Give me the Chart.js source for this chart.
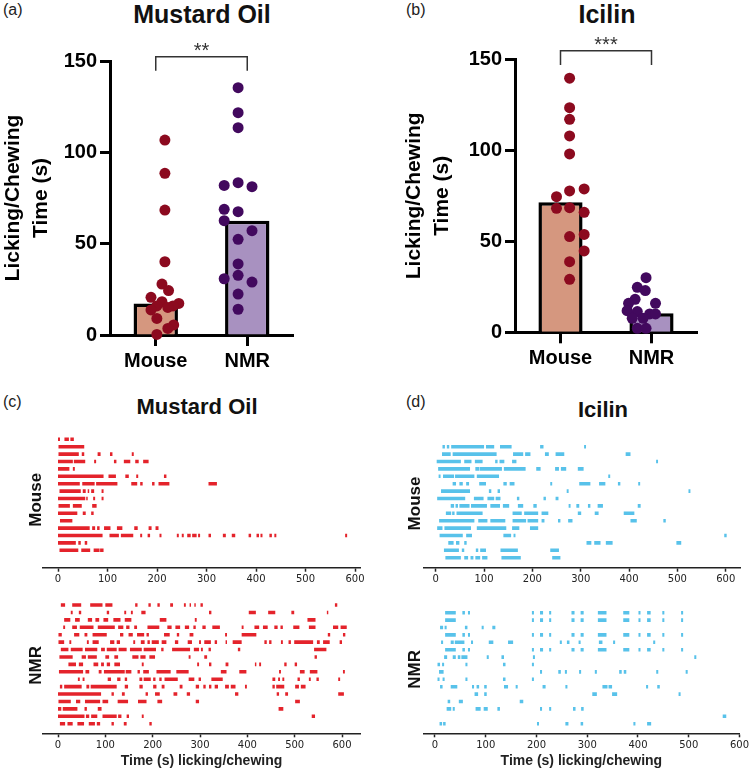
<!DOCTYPE html>
<html>
<head>
<meta charset="utf-8">
<script src="https://cdn.jsdelivr.net/npm/chart.js@4.4.1/dist/chart.umd.min.js"></script>
<style>
    body { margin: 0; background: #fff; width: 751px; height: 772px; position: relative; overflow: hidden; font-family: 'Liberation Sans', Arial, sans-serif; }
    .box { position: absolute; }
    .lbl { position: absolute; font-size: 16px; line-height: 16px; color: #222; white-space: nowrap; }
    .ttl { position: absolute; font-weight: bold; color: #111; white-space: nowrap; transform: translateX(-50%); }
</style>
</head>
<body>
<div class="lbl" style="left:3px;top:2px">(a)</div>
<div class="lbl" style="left:406px;top:2px">(b)</div>
<div class="lbl" style="left:3px;top:394px">(c)</div>
<div class="lbl" style="left:406px;top:394px">(d)</div>
<div class="ttl" style="left:202px;top:2px;font-size:25px;line-height:25px">Mustard Oil</div>
<div class="ttl" style="left:607px;top:2px;font-size:25px;line-height:25px">Icilin</div>
<div class="ttl" style="left:197px;top:396px;font-size:22px;line-height:22px">Mustard Oil</div>
<div class="ttl" style="left:603px;top:399px;font-size:22px;line-height:22px">Icilin</div>

<div class="box" style="left:0;top:0"><canvas id="barA" width="375" height="385"></canvas></div>
<div class="box" style="left:400px;top:0"><canvas id="barB" width="351" height="385"></canvas></div>
<div class="box" style="left:0;top:390px"><canvas id="rasC1" width="375" height="200"></canvas></div>
<div class="box" style="left:0;top:590px"><canvas id="rasC2" width="375" height="182"></canvas></div>
<div class="box" style="left:380px;top:390px"><canvas id="rasD1" width="371" height="200"></canvas></div>
<div class="box" style="left:380px;top:590px"><canvas id="rasD2" width="371" height="182"></canvas></div>

<script>
// ---- bar charts (a), (b) ----
const groups = ['Mouse', 'NMR'];
const yTicks = [0, 50, 100, 150];

const mustardBars = [17.3, 62.6];
const mustardMouseVals = [106.7, 88.5, 68.4, 40.1, 27.9, 24.3, 20.6, 18.2, 17.3, 15.9, 15.9, 15.1, 13.7, 9.1, 5.5, 3.6, 0.3];
const mustardMouseJit  = [0, 0, 0, 0, -0.04, 0.05, -0.19, -0.04, 0.19, 0.11, -0.11, 0.04, -0.19, -0.11, 0.12, 0.04, -0.11];
const mustardNmrVals = [135.4, 121.7, 113.5, 81.9, 83.4, 81.2, 68.8, 67.5, 62.6, 57.1, 52.4, 38.9, 32.7, 30.8, 29.0, 22.4, 14.1];
const mustardNmrJit  = [0, 0, 0, -0.19, 0, 0.19, -0.19, 0, -0.19, 0.19, 0, 0, 0, -0.19, 0.19, 0, 0];

const icilinBars = [71.4, 10.4];
const icilinMouseVals = [139.6, 123.4, 117.0, 107.9, 98.0, 74.5, 77.7, 78.8, 68.1, 68.5, 65.9, 52.6, 53.8, 44.7, 38.8, 29.1];
const icilinMouseJit  = [0, 0, 0, 0, 0, -0.18, 0, 0.2, -0.18, 0, 0.2, 0, 0.2, 0.2, 0, 0];
const icilinNmrVals = [30.0, 24.7, 22.9, 18.1, 15.9, 15.9, 11.4, 11.9, 10.1, 10.1, 7.7, 7.7, 2.2, 2.2];
const icilinNmrJit  = [0.05, -0.07, 0.04, -0.1, 0.18, -0.19, -0.07, -0.21, 0.1, 0.18, -0.14, 0.01, -0.07, 0.05];

const mustardSig = { text: '**', y: 152.3, drop: 144.7 };
const icilinSig = { text: '***', y: 154.7, drop: 146.9 };

// ---- raster plots (c), (d): each row is a list of [start, end] licking bouts in s ----
const xTicks = [0, 100, 200, 300, 400, 500, 600];

const mustardMouseRows = [
    [[0,4],[13,22],[25,32]],
    [[1,53]],
    [[1,42],[48,53],[80,86],[105,110],[149,153]],
    [[0,30],[32,55],[73,77],[113,118],[133,146],[156,163],[172,183]],
    [[0,23],[30,34]],
    [[0,92],[102,117],[136,143],[158,162],[214,219]],
    [[0,44],[49,74],[77,120],[148,160],[166,171],[190,195],[203,225],[304,321]],
    [[3,46],[50,56],[60,63],[67,73],[88,92]],
    [[0,55],[57,60],[71,75],[88,92]],
    [[1,24],[30,48],[69,78]],
    [[0,39],[50,56],[67,72]],
    [[4,29]],
    [[0,64],[69,75],[79,84],[93,106],[119,130],[154,161],[183,189],[197,203]],
    [[0,90],[104,123],[127,152],[166,170],[181,186],[205,209],[240,244],[250,254],[261,268],[271,280],[283,287],[304,309],[333,339],[351,358],[385,390],[401,406],[409,413],[427,432],[437,441],[580,584]],
    [[0,36],[41,46],[54,59]],
    [[3,41],[47,65],[72,84],[85,92]]
];

const mustardNmrRows = [
    [[6,15],[30,49],[68,94],[100,115],[163,168],[191,196],[210,215],[237,243],[266,270],[278,281],[288,291],[301,306],[585,590]],
    [[27,31],[44,49],[103,108],[140,144],[154,158],[176,185],[319,324],[403,418],[444,459],[493,499],[568,571]],
    [[13,26],[36,46],[63,72],[79,87],[96,106],[117,132],[141,155],[215,229],[289,293],[527,544]],
    [[11,15],[30,40],[46,75],[84,120],[127,138],[144,151],[161,167],[189,214],[231,240],[248,258],[268,277],[286,291],[305,312],[326,342],[388,392],[415,425],[433,443],[457,464],[470,475],[497,510],[530,544],[581,592],[597,610]],
    [[1,8],[34,45],[56,62],[73,103],[131,138],[149,158],[167,182],[187,192],[224,236],[251,256],[278,286],[353,357],[388,419],[570,575],[602,607]],
    [[1,13],[24,28],[61,65],[73,86],[110,119],[124,131],[159,163],[175,183],[189,194],[198,213],[219,229],[247,254],[274,283],[298,302],[309,323],[331,336],[354,357],[369,388],[436,441],[446,451],[471,475],[487,492],[499,539],[547,553],[560,574],[595,600]],
    [[6,22],[27,52],[57,83],[91,99],[103,124],[128,145],[152,177],[181,207],[218,223],[241,279],[287,298],[302,306],[318,323],[380,385],[541,567]],
    [[3,31],[50,59],[63,82],[100,108],[119,127],[157,170],[174,185],[193,205],[276,280],[309,315],[542,547]],
    [[22,38],[44,53],[75,85],[91,97],[103,110],[119,131],[177,181],[294,298],[319,324],[354,360],[416,419],[425,429],[478,483],[500,505]],
    [[2,53],[58,66],[86,92],[97,141],[143,155],[168,173],[180,192],[208,238],[250,276],[344,356],[383,398],[467,471],[511,521],[532,548],[602,606]],
    [[42,46],[52,56],[105,112],[125,132],[141,146],[172,178],[181,196],[201,206],[214,219],[225,253],[276,288],[297,302],[324,348],[453,459],[465,469],[474,478],[506,511],[530,534],[546,551],[592,596]],
    [[4,9],[13,50],[60,66],[69,124],[141,148],[172,179],[201,208],[219,225],[257,263],[291,298],[307,312],[319,324],[331,338],[353,361],[365,375],[395,399],[453,458],[461,478],[501,509],[513,523]],
    [[0,91],[113,118],[135,141],[185,190],[205,215],[244,252],[272,279],[374,381],[462,467],[480,486],[592,604]],
    [[1,27],[38,47],[57,89],[94,106],[126,148],[169,187],[210,220],[291,298],[501,511]],
    [[0,7],[10,41],[56,61],[84,92],[466,476]],
    [[0,56],[59,66],[70,83],[94,124],[127,134],[145,150],[177,181],[536,543]],
    [[4,15],[20,31],[41,55],[65,78],[82,89],[113,118],[139,145],[193,198]]
];

const icilinMouseRows = [
    [[14,19],[23,28],[32,100],[104,121],[133,157],[216,223],[307,311]],
    [[13,31],[35,126],[160,181],[185,196],[226,234],[248,266],[393,403]],
    [[2,52],[59,74],[81,97],[123,128],[132,142],[158,167],[456,460]],
    [[5,71],[82,90],[91,137],[141,186],[208,217],[247,255],[259,270],[294,306]],
    [[6,10],[15,38],[40,80],[85,131],[357,361]],
    [[35,42],[49,56],[63,69],[90,104],[140,147],[153,163],[237,241],[297,320],[338,351],[377,382],[419,423]],
    [[11,71],[110,115],[128,133],[271,275],[523,527]],
    [[3,61],[79,99],[107,121],[124,134],[168,173],[223,228],[248,254]],
    [[31,38],[41,46],[49,70],[73,106],[113,133],[139,152],[170,181],[202,209],[275,279],[291,297],[315,320],[335,346],[418,424]],
    [[21,32],[34,39],[43,97],[159,178],[183,212],[219,233],[294,301],[329,337],[389,411]],
    [[7,80],[88,107],[113,144],[159,187],[190,212],[219,225],[253,258],[274,283],[403,416],[471,476]],
    [[3,14],[18,73],[85,146],[158,173],[195,212]],
    [[8,56],[63,75],[140,156],[161,165],[597,602]],
    [[26,37],[42,49],[59,64],[312,322],[328,341],[352,366],[498,508]],
    [[17,48],[54,59],[83,88],[92,104],[134,170],[237,255]],
    [[20,52],[59,67],[72,78],[82,92],[96,107],[136,176],[241,258]]
];

const icilinNmrRows = [
    [[20,41],[54,59],[65,69],[191,195],[207,213],[225,229],[269,275],[287,293],[321,338],[371,383],[401,405],[418,425],[448,452],[485,489]],
    [[20,41],[191,195],[207,213],[225,229],[269,275],[287,293],[321,338],[371,383],[401,405],[418,425],[448,452],[485,489]],
    [[10,16],[19,23],[59,64],[92,96],[113,119]],
    [[20,41],[54,59],[65,69],[191,195],[207,213],[225,229],[269,275],[287,293],[321,338],[371,383],[401,405],[418,425],[448,452],[485,489]],
    [[12,16],[31,37],[39,58],[71,75],[106,115],[144,154],[246,250],[260,265],[283,287],[323,330],[351,355],[430,434]],
    [[20,41],[54,59],[65,69],[191,195],[207,213],[225,229],[269,275],[287,293],[321,338],[371,383],[401,405],[418,425],[448,452],[485,489]],
    [[18,24],[35,41],[45,50],[52,64],[102,106],[131,136],[193,197],[511,515]],
    [[5,10],[14,18],[60,64],[134,139],[191,195]],
    [[8,17],[207,211],[243,248],[256,260],[284,288],[315,319],[363,368],[372,377],[436,440],[494,498]],
    [[5,9],[15,19],[60,64],[134,139],[191,195]],
    [[10,15],[31,44],[73,77],[82,87],[97,102],[136,144],[159,163],[212,218],[257,261],[330,340],[342,349],[416,420],[438,443]],
    [[78,85],[97,102],[310,319],[349,359],[480,484]],
    [[25,30],[47,55],[167,174]],
    [[23,32],[35,39],[80,90],[96,104],[123,128],[207,211],[225,229],[272,277],[288,293]],
    [[567,574]],
    [[9,14],[16,21],[201,205],[257,263],[287,292],[391,395],[418,426]]
];

const MOUSE_FILL = '#D5977F', NMR_FILL = '#A891C0';
const MOUSE_DOT = '#8C0A1F', NMR_DOT = '#42095E';
const RED = '#E4232B', BLUE = '#58C2EA';
const boldFont = 'Liberation Sans';

// significance bracket between the two groups
const bracketPlugin = {
    id: 'bracket',
    afterDatasetsDraw(chart, args, opts) {
        if (!opts.sig) return;
        const ctx = chart.ctx;
        const x0 = chart.scales.x.getPixelForValue(0);
        const x1 = chart.scales.x.getPixelForValue(1);
        const yTop = chart.scales.y.getPixelForValue(opts.sig.y);
        const yDrop = chart.scales.y.getPixelForValue(opts.sig.drop);
        ctx.save();
        ctx.strokeStyle = '#333';
        ctx.lineWidth = 1.5;
        ctx.beginPath();
        ctx.moveTo(x0, yDrop);
        ctx.lineTo(x0, yTop);
        ctx.lineTo(x1, yTop);
        ctx.lineTo(x1, yDrop);
        ctx.stroke();
        ctx.fillStyle = '#333';
        ctx.font = '20px ' + boldFont;
        ctx.textAlign = 'center';
        ctx.textBaseline = 'bottom';
        ctx.fillText(opts.sig.text, (x0 + x1) / 2, yTop + 5);
        ctx.restore();
    }
};

function dots(vals, jit, idx) {
    return vals.map((v, i) => ({ x: idx + jit[i], y: v }));
}

function makeBarPanel(id, bars, mVals, mJit, nVals, nJit, sig, layout) {
    new Chart(document.getElementById(id), {
        type: 'bar',
        data: {
            labels: groups,
            datasets: [
                {
                    type: 'scatter', xAxisID: 'xp', order: 0, clip: false,
                    data: dots(mVals, mJit, 0),
                    backgroundColor: MOUSE_DOT, pointRadius: 5.5, borderWidth: 0
                },
                {
                    type: 'scatter', xAxisID: 'xp', order: 0, clip: false,
                    data: dots(nVals, nJit, 1),
                    backgroundColor: NMR_DOT, pointRadius: 5.5, borderWidth: 0
                },
                {
                    type: 'bar', order: 1, grouped: false,
                    data: bars,
                    backgroundColor: [MOUSE_FILL, NMR_FILL],
                    borderColor: '#000', borderWidth: 3.5,
                    barPercentage: 0.485, categoryPercentage: 1
                }
            ]
        },
        options: {
            responsive: false,
            animation: false,
            devicePixelRatio: 1,
            layout: { padding: { left: 0, top: layout.top, right: layout.right, bottom: 0 } },
            plugins: { legend: { display: false }, tooltip: { enabled: false }, bracket: { sig: sig } },
            scales: {
                x: {
                    grid: { display: true, drawOnChartArea: false, offset: false, tickLength: 11, tickWidth: 3, tickColor: '#000' },
                    border: { display: true, width: 3, color: '#000' },
                    ticks: { color: '#000', padding: 3, font: { family: boldFont, size: 20, weight: 'bold' } },
                    afterFit: s => { s.height = layout.xh; }
                },
                xp: { type: 'linear', display: false, min: -0.5, max: 1.5 },
                y: {
                    min: 0, max: 150,
                    afterBuildTicks: s => { s.ticks = yTicks.map(v => ({ value: v })); },
                    grid: { display: true, drawOnChartArea: false, tickLength: 10, tickWidth: 3, tickColor: '#000' },
                    border: { display: true, width: 3, color: '#000' },
                    ticks: { color: '#000', padding: 3, font: { family: boldFont, size: 20, weight: 'bold' } },
                    title: {
                        display: true, text: ['Licking/Chewing', 'Time (s)'], color: '#000',
                        font: { family: boldFont, size: 21, weight: 'bold', lineHeight: 1.3 },
                        padding: { top: layout.tpad, bottom: 0 }
                    },
                    afterFit: s => { s.width = layout.yw; }
                }
            }
        },
        plugins: [bracketPlugin]
    });
}

function rasterPoints(rows) {
    const pts = [];
    rows.forEach((row, i) => {
        row.forEach(seg => {
            pts.push({ x: seg[0], y: i }, { x: seg[1], y: i }, { x: seg[1], y: null });
        });
    });
    return pts;
}

function makeRaster(id, rows, color, label, xr, lay) {
    new Chart(document.getElementById(id), {
        type: 'scatter',
        data: {
            datasets: [{
                data: rasterPoints(rows),
                showLine: true, spanGaps: false,
                borderColor: color, borderWidth: 3.6, borderCapStyle: 'butt',
                pointRadius: 0, clip: false
            }]
        },
        options: {
            responsive: false,
            animation: false,
            devicePixelRatio: 1,
            layout: { padding: { left: 0, top: lay.top, right: lay.right, bottom: 0 } },
            plugins: { legend: { display: false }, tooltip: { enabled: false } },
            scales: {
                x: {
                    type: 'linear', min: xr[0], max: xr[1],
                    afterBuildTicks: s => { s.ticks = xTicks.map(v => ({ value: v })); },
                    grid: { display: true, drawOnChartArea: false, tickLength: 4, tickWidth: 1.5, tickColor: '#222' },
                    border: { display: true, width: 1.5, color: '#222' },
                    ticks: { color: '#222', padding: 2, maxRotation: 0, font: { family: 'DejaVu Sans', size: 10 } },
                    title: {
                        display: lay.xtitle, text: 'Time (s) licking/chewing', color: '#222',
                        font: { family: boldFont, size: 14, weight: 'bold' },
                        padding: { top: 0, bottom: 2.6 }
                    },
                    afterFit: s => { s.height = lay.xh; }
                },
                y: {
                    type: 'linear', reverse: true, min: -1, max: lay.ymax,
                    grid: { display: false }, border: { display: false },
                    ticks: { display: false },
                    title: {
                        display: true, text: label, color: '#111',
                        font: { family: boldFont, size: 17, weight: 'bold' },
                        padding: { top: lay.tpad, bottom: 0 }
                    },
                    afterFit: s => { s.width = lay.yw; }
                }
            }
        }
    });
}

makeBarPanel('barA', mustardBars, mustardMouseVals, mustardMouseJit, mustardNmrVals, mustardNmrJit, mustardSig,
    { top: 61, right: 82, xh: 50, yw: 110, tpad: 0 });
makeBarPanel('barB', icilinBars, icilinMouseVals, icilinMouseJit, icilinNmrVals, icilinNmrJit, icilinSig,
    { top: 59.3, right: 54, xh: 52.7, yw: 115, tpad: 1 });

makeRaster('rasC1', mustardMouseRows, RED, 'Mouse', [-30.3, 610], { top: 41.9, right: 15, xh: 22.3, yw: 43, ymax: 17.35, tpad: 26.5, xtitle: false });
makeRaster('rasC2', mustardNmrRows, RED, 'NMR', [-31.7, 638], { top: 7.6, right: 15, xh: 38.7, yw: 43, ymax: 17.29, tpad: 26.5, xtitle: true });
makeRaster('rasD1', icilinMouseRows, BLUE, 'Mouse', [-25.7, 629.6], { top: 49.3, right: 11, xh: 22.3, yw: 43.3, ymax: 16.35, tpad: 25, xtitle: false });
makeRaster('rasD2', icilinNmrRows, BLUE, 'NMR', [-23, 600], { top: 15.3, right: 11, xh: 38.7, yw: 43.3, ymax: 16.3, tpad: 25, xtitle: true });
</script>
</body>
</html>
